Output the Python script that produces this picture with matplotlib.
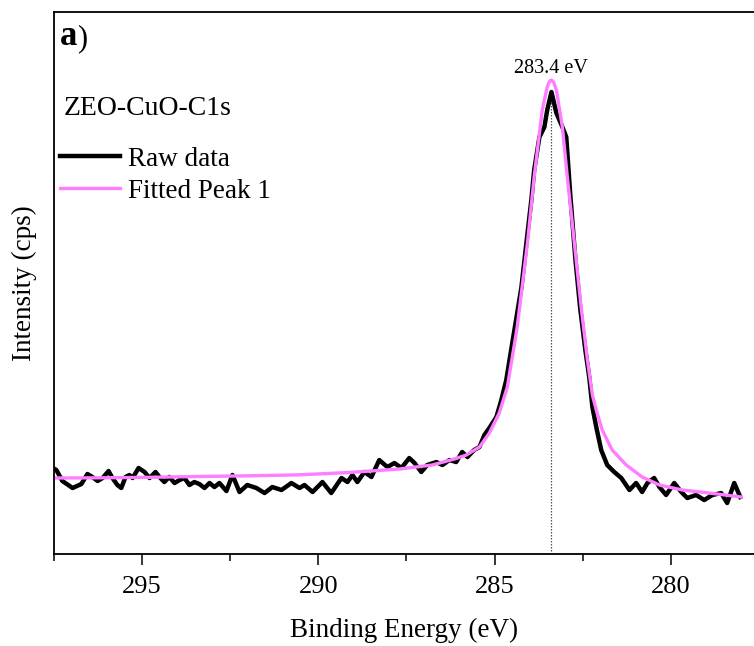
import matplotlib
matplotlib.use('Agg')
import matplotlib.pyplot as plt
from matplotlib.ticker import FixedLocator, MultipleLocator

plt.rcParams['font.family'] = ['Liberation Serif', 'DejaVu Serif']

# Raw C1s spectrum (binding energy in eV, counts per second)
raw_energy = [297.52, 297.42, 297.25, 296.96, 296.71, 296.54, 296.40, 296.25, 296.11, 295.94,
              295.83, 295.69, 295.58, 295.46, 295.35, 295.26, 295.09, 294.92, 294.78, 294.61,
              294.50, 294.36, 294.22, 294.07, 293.93, 293.79, 293.65, 293.51, 293.37, 293.22,
              293.08, 292.94, 292.80, 292.60, 292.43, 292.23, 292.01, 291.75, 291.52, 291.30,
              291.04, 290.76, 290.53, 290.39, 290.16, 289.88, 289.63, 289.34, 289.17, 289.03,
              288.89, 288.69, 288.49, 288.27, 288.04, 287.84, 287.64, 287.42, 287.27, 287.08,
              286.91, 286.65, 286.48, 286.28, 286.09, 285.92, 285.77, 285.58, 285.43, 285.29,
              285.15, 284.95, 284.81, 284.67, 284.50, 284.24, 284.10, 283.96, 283.88, 283.73,
              283.59, 283.51, 283.39, 283.25, 283.08, 282.97, 282.86, 282.71, 282.57, 282.43,
              282.32, 282.23, 282.12, 281.98, 281.81, 281.61, 281.41, 281.18, 280.99, 280.82,
              280.67, 280.48, 280.33, 280.14, 279.91, 279.71, 279.54, 279.29, 279.06, 278.83,
              278.58, 278.41, 278.21, 278.04]
raw_counts = [1587, 1550, 1347, 1218, 1292, 1476, 1421, 1347, 1402, 1531,
              1402, 1273, 1218, 1421, 1458, 1402, 1587, 1513, 1402, 1513,
              1421, 1328, 1421, 1310, 1365, 1402, 1273, 1328, 1292, 1218,
              1310, 1236, 1310, 1162, 1458, 1144, 1273, 1218, 1125, 1236,
              1181, 1310, 1218, 1273, 1144, 1328, 1125, 1402, 1328, 1458,
              1328, 1513, 1421, 1734, 1605, 1679, 1587, 1771, 1679, 1513,
              1642, 1697, 1642, 1734, 1697, 1882, 1790, 1919, 1974, 2196,
              2325, 2528, 2841, 3210, 3893, 4926, 5738, 6531, 7085, 7694,
              7878, 8192, 8524, 8136, 7878, 7694, 6660, 5424, 4502, 3764,
              3266, 2712, 2343, 1919, 1642, 1513, 1402, 1181, 1310, 1144,
              1310, 1402, 1236, 1089, 1310, 1144, 1033, 1089, 996, 1089,
              1125, 941, 1310, 1052]

# Fitted peak 1 envelope
fit_energy = [297.50, 296.20, 294.78, 293.37, 291.95, 290.53, 289.12, 287.70, 286.77, 286.14,
              285.80, 285.43, 285.15, 284.87, 284.64, 284.36, 284.07, 283.88, 283.65, 283.51,
              283.45, 283.39, 283.33, 283.25, 283.08, 282.94, 282.74, 282.54, 282.37, 282.23,
              282.12, 281.95, 281.67, 281.27, 280.82, 280.33, 279.68, 278.92, 278.01]
fit_counts = [1402, 1406, 1415, 1430, 1443, 1461, 1504, 1568, 1642, 1753,
              1827, 1974, 2232, 2601, 3081, 4188, 5738, 6956, 8192, 8616,
              8717, 8745, 8708, 8561, 7878, 6956, 5738, 4502, 3579, 2934,
              2657, 2288, 1919, 1642, 1421, 1273, 1181, 1125, 1052]

peak_position = 283.4
peak_label = '283.4 eV'
sample_name = 'ZEO-CuO-C1s'
x_ticks = [295, 290, 285, 280]

fig = plt.figure(figsize=(7.54, 6.46), dpi=100)
ax = fig.add_axes([0.071, 0.1424, 0.929, 0.839])

ax.vlines(peak_position, 0, 8500, colors='#555555', linestyles=(0, (1.2, 1.2)), linewidth=0.9)
ax.plot(raw_energy, raw_counts, color='black', lw=3.2, label='Raw data', solid_joinstyle='round')
ax.plot(fit_energy, fit_counts, color='#ff7dff', lw=2.4, label='Fitted Peak 1')

ax.set_xlim(297.5, 277.65)
ax.set_ylim(0, 10000)
ax.xaxis.set_major_locator(FixedLocator(x_ticks))
ax.xaxis.set_minor_locator(MultipleLocator(2.5))
ax.set_yticks([])
ax.tick_params(axis='x', which='major', length=8, width=1.1, pad=8, labelsize=19)
ax.tick_params(axis='x', which='minor', length=5, width=1.1)
for side in ['left', 'top', 'bottom']:
    ax.spines[side].set_linewidth(1.3)
ax.spines['right'].set_visible(False)

ax.set_xlabel('Binding Energy (eV)', fontsize=19.5, labelpad=14)
ax.set_ylabel('Intensity (cps)', fontsize=19.5, labelpad=12)

ax.text(peak_position, 8880, peak_label, ha='center', va='baseline', fontsize=14.5)
ax.text(0.015, 0.810, sample_name, transform=ax.transAxes, ha='left', va='baseline', fontsize=20)
t_a = ax.text(0.009, 0.939, 'a', transform=ax.transAxes, ha='left', va='baseline',
              fontsize=25, fontweight='bold')
ax.annotate(')', xy=(1, 0), xycoords=t_a, ha='left', va='bottom', fontsize=22)

ax.legend(loc='upper left', bbox_to_anchor=(0.0093, 0.751), frameon=False, fontsize=19.5,
          borderaxespad=0, borderpad=0, handlelength=2.2, handletextpad=0.3, labelspacing=0.25)

fig.savefig('out.png', dpi=100)
